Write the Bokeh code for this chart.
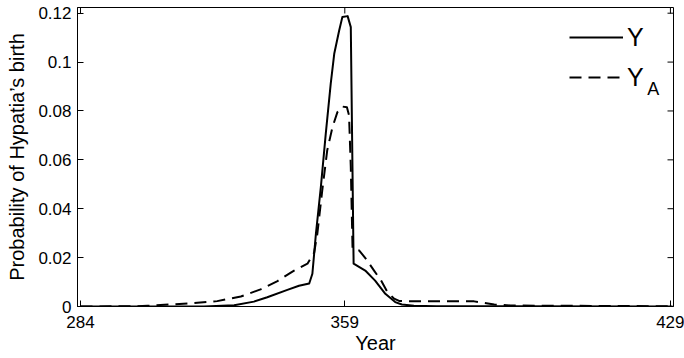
import math

from bokeh.plotting import figure
from bokeh.models import Range1d, FixedTicker, Legend, LegendItem, Label
from bokeh.embed import file_html
from bokeh.resources import INLINE

FONT = "Liberation Sans"

# Horizontal positions along the year axis and probabilities for each series
x_y = [284, 319, 327.6, 333.2, 337.0, 342.7, 346.0, 348.9, 349.8, 350.8, 352.2, 353.6,
       355.0, 356.0, 357.4, 358.3, 359.8, 360.7, 361.5, 364.8, 367.6, 370.5, 373.3,
       375.2, 378.6, 385.0, 452.0]
y_y = [0, 0, 0.0005, 0.0020, 0.0038, 0.0068, 0.0085, 0.0094, 0.0134, 0.0297, 0.0488, 0.0707,
       0.0911, 0.1034, 0.1129, 0.1184, 0.1188, 0.1143, 0.0175, 0.0147, 0.0106, 0.0052, 0.0018,
       0.0008, 0.0003, 0.0001, 0]

x_a = [284, 300, 303, 316.2, 322.8, 329.5, 335.1, 339.9, 344.6, 348.4, 350.3, 351.2, 352.6,
       354.0, 355.5, 356.9, 358.3, 359.6, 360.2, 360.7, 361.2, 363.1, 365.0, 367.3, 369.3,
       371.1, 373.0, 374.4, 377.7, 395.7, 401.4, 406.0, 452.0]
y_a = [0, 0.0001, 0.0003, 0.0014, 0.0022, 0.0041, 0.0070, 0.0104, 0.0147, 0.0175, 0.0220,
       0.0297, 0.0475, 0.0638, 0.0734, 0.0795, 0.0818, 0.0815, 0.0782, 0.0570, 0.0236, 0.0229,
       0.0195, 0.0147, 0.0106, 0.0059, 0.0032, 0.0023, 0.0021, 0.0021, 0.0008, 0.0004, 0.0001]

x_ticks = [284, 359, 451.4]
x_tick_labels = ["284", "359", "429"]
y_ticks = [0, 0.02, 0.04, 0.06, 0.08, 0.1, 0.12]
y_tick_labels = ["0", "0.02", "0.04", "0.06", "0.08", "0.1", "0.12"]

x_lo, x_hi = 283.15, 452.27
y_lo, y_hi = 0, 0.12233

p = figure(width=684, height=358, output_backend="svg", toolbar_location=None,
           x_range=Range1d(x_lo, x_hi), y_range=Range1d(y_lo, y_hi),
           min_border_left=77, min_border_right=11, min_border_top=7, min_border_bottom=52,
           background_fill_color="white", border_fill_color="white")
p.grid.visible = False
p.outline_line_color = "black"
p.outline_line_width = 1


def style_axis(ax, ticks, labels):
    ax.ticker = FixedTicker(ticks=ticks)
    ax.major_label_overrides = dict(zip(ticks, labels))
    ax.major_tick_in = 6
    ax.major_tick_out = 0
    ax.minor_tick_line_color = None
    ax.axis_line_color = "black"
    ax.major_tick_line_color = "black"
    ax.major_label_text_font = FONT
    ax.major_label_text_color = "black"
    ax.major_label_text_font_size = "17px"
    ax.axis_label_text_font = FONT
    ax.axis_label_text_font_size = "20px"
    ax.axis_label_text_font_style = "normal"
    ax.axis_label_text_color = "black"


xa = p.xaxis[0]
style_axis(xa, x_ticks, x_tick_labels)
xa.axis_label = "Year"
xa.major_label_standoff = 9
xa.axis_label_standoff = 1

ya = p.yaxis[0]
style_axis(ya, y_ticks, y_tick_labels)
ya.axis_label = "Probability of Hypatia\u2019s birth"
ya.major_label_standoff = 6
ya.axis_label_standoff = 7

# mirrored inward ticks on the top and right edges of the box
p.ray(x=x_ticks, y=[y_hi] * len(x_ticks), length=6, length_units="screen",
      angle=-math.pi / 2, line_color="black", line_width=1)
p.ray(x=[x_hi] * len(y_ticks), y=y_ticks, length=6, length_units="screen",
      angle=math.pi, line_color="black", line_width=1)

r_y = p.line(x_y, y_y, line_color="black", line_width=2, line_join="round")
r_a = p.line(x_a, y_a, line_color="black", line_width=2, line_dash="12 7", line_join="round")

legend = Legend(items=[LegendItem(label="Y", renderers=[r_y]),
                       LegendItem(label="Y", renderers=[r_a])],
                location=(492, 214), padding=0, margin=0, spacing=10,
                glyph_width=54, glyph_height=30, label_height=30, label_width=20,
                label_standoff=4, border_line_color=None, background_fill_alpha=0,
                label_text_font=FONT, label_text_font_size="25px", label_text_color="black")
p.add_layout(legend)

# subscript of the second legend entry
p.add_layout(Label(x=444.8, y=0.0888, text="A", text_font=FONT, text_font_size="18px",
                   text_baseline="alphabetic", text_color="black"))

open("out.html", "w").write(file_html(p, INLINE))
